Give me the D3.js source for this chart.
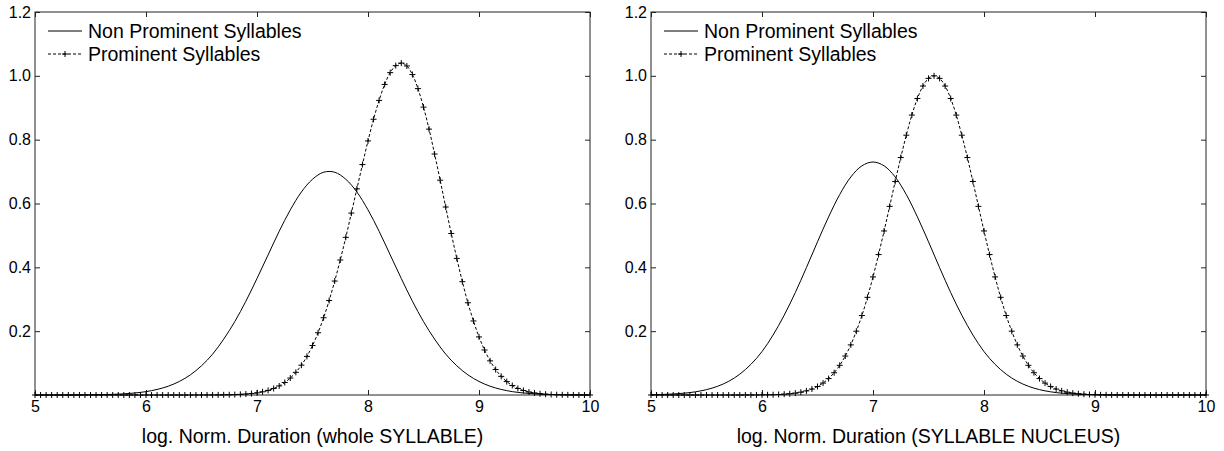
<!DOCTYPE html>
<html>
<head>
<meta charset="utf-8">
<script src="https://cdn.jsdelivr.net/npm/d3@7"></script>
<style>
	body { margin: 0; background: #fff; }
	svg { display: block; }
	text { font-family: "Liberation Sans", Arial, sans-serif; fill: #000; }
	.tick line { stroke: #222; }
	.tick text { font-size: 16px; }
	.domain { display: none; }
</style>
</head>
<body>
<svg id="chart" width="1224" height="451"></svg>
<script>
let xTicks = [5, 6, 7, 8, 9, 10];
let yTicks = [0.2, 0.4, 0.6, 0.8, 1.0, 1.2];
let seriesNames = ['Non Prominent Syllables', 'Prominent Syllables'];
let xTitles = ['log. Norm. Duration (whole SYLLABLE)', 'log. Norm. Duration (SYLLABLE NUCLEUS)'];

// solid curves: read every 0.1 from x = 5 to 10
let solidStep = 0.1;
// dashed curves with + markers: read every 0.05 from x = 5 to 10
let dashedStep = 0.05;

let nonProminentWhole = [
	0.0000, 0.0000, 0.0001, 0.0001, 0.0003, 0.0006, 0.0011, 0.0020, 0.0036, 0.0063,
	0.0106, 0.0174, 0.0275, 0.0424, 0.0632, 0.0915, 0.128, 0.175, 0.230, 0.294,
	0.365, 0.439, 0.513, 0.580, 0.636, 0.676, 0.698, 0.698, 0.676, 0.636,
	0.580, 0.513, 0.439, 0.365, 0.294, 0.230, 0.175, 0.128, 0.0915, 0.0632,
	0.0424, 0.0275, 0.0174, 0.0106, 0.0063, 0.0036, 0.0020, 0.0011, 0.0006, 0.0003,
	0.0001
];

let prominentWhole = [
	0, 0, 0, 0, 0, 0, 0, 0, 0, 0,
	0, 0, 0, 0, 0, 0, 0, 0, 0, 0,
	0, 0, 0, 0, 0, 0, 0, 0, 0, 0,
	0.0001, 0.0001, 0.0002, 0.0003, 0.0005, 0.0008, 0.0013, 0.0020, 0.0031, 0.0046,
	0.0068, 0.0100, 0.0143, 0.0204, 0.0284, 0.0392, 0.0531, 0.0710, 0.0935, 0.121,
	0.155, 0.195, 0.242, 0.296, 0.357, 0.423, 0.494, 0.570, 0.646, 0.722,
	0.796, 0.864, 0.923, 0.973, 1.010, 1.032, 1.040, 1.031, 1.004, 0.960,
	0.902, 0.833, 0.755, 0.673, 0.589, 0.506, 0.428, 0.355, 0.289, 0.232,
	0.182, 0.141, 0.107, 0.0797, 0.0584, 0.0420, 0.0297, 0.0206, 0.0141, 0.0094,
	0.0062, 0.0040, 0.0025, 0.0016, 0.0010, 0.0006, 0.0004, 0.0002, 0.0001, 0.0001,
	0
];

let nonProminentNucleus = [
	0.0009, 0.0017, 0.0032, 0.0057, 0.0100, 0.0168, 0.0273, 0.0429, 0.0653, 0.0960,
	0.136, 0.188, 0.250, 0.321, 0.399, 0.480, 0.558, 0.628, 0.683, 0.718,
	0.730, 0.718, 0.683, 0.628, 0.558, 0.480, 0.399, 0.321, 0.250, 0.188,
	0.136, 0.0960, 0.0653, 0.0429, 0.0273, 0.0168, 0.0100, 0.0057, 0.0032, 0.0017,
	0.0009, 0.0004, 0.0002, 0.0001, 0, 0, 0, 0, 0, 0,
	0
];

let prominentNucleus = [
	0, 0, 0, 0, 0, 0, 0, 0, 0, 0,
	0, 0, 0, 0, 0, 0, 0, 0.0001, 0.0001, 0.0002,
	0.0004, 0.0006, 0.0010, 0.0016, 0.0025, 0.0039, 0.0059, 0.0088, 0.0129, 0.0187,
	0.0267, 0.0374, 0.0515, 0.0698, 0.0930, 0.122, 0.157, 0.200, 0.249, 0.306,
	0.370, 0.440, 0.514, 0.591, 0.669, 0.744, 0.814, 0.877, 0.929, 0.968,
	0.992, 1.000, 0.992, 0.968, 0.929, 0.877, 0.814, 0.744, 0.669, 0.591,
	0.514, 0.440, 0.370, 0.306, 0.249, 0.200, 0.157, 0.122, 0.0930, 0.0698,
	0.0515, 0.0374, 0.0267, 0.0187, 0.0129, 0.0088, 0.0059, 0.0039, 0.0025, 0.0016,
	0.0010, 0.0006, 0.0004, 0.0002, 0.0001, 0.0001, 0, 0, 0, 0,
	0, 0, 0, 0, 0, 0, 0, 0, 0, 0,
	0
];

let plotTop = 12;
let plotBottom = 395;
let tickLen = 5;

let panels = [
	{ left: 35, right: 590, solid: nonProminentWhole, dashed: prominentWhole, title: xTitles[0] },
	{ left: 651, right: 1206, solid: nonProminentNucleus, dashed: prominentNucleus, title: xTitles[1] }
];

// turn a list of read values into {x, y} points on the sampling grid
function toPoints(values, step) {
	return values.map((v, i) => ({ x: 5 + i * step, y: v }));
}

function plusPath(size) {
	return `M${-size},0H${size}M0,${-size}V${size}`;
}

function drawPanel(chart, p) {
	let xScale = d3.scaleLinear().domain([5, 10]).range([p.left, p.right]);
	let yScale = d3.scaleLinear().domain([0, 1.2]).range([plotBottom, plotTop]);

	let g = chart.append('g');

	// box
	g.append('rect')
		.attr('x', p.left)
		.attr('y', plotTop)
		.attr('width', p.right - p.left)
		.attr('height', plotBottom - plotTop)
		.attr('fill', 'none')
		.attr('stroke', '#222')
		.attr('stroke-width', 1);

	// AXES, ticks point inward on all four sides
	g.append('g')
		.attr('transform', `translate(0,${plotBottom})`)
		.call(d3.axisBottom(xScale).tickValues(xTicks).tickFormat(d3.format('d'))
			.tickSizeInner(-tickLen).tickSizeOuter(0).tickPadding(6));

	g.append('g')
		.attr('transform', `translate(0,${plotTop})`)
		.call(d3.axisTop(xScale).tickValues(xTicks).tickFormat('')
			.tickSizeInner(-tickLen).tickSizeOuter(0));

	g.append('g')
		.attr('transform', `translate(${p.left},0)`)
		.call(d3.axisLeft(yScale).tickValues(yTicks).tickFormat(d3.format('.1f'))
			.tickSizeInner(-tickLen).tickSizeOuter(0).tickPadding(4));

	g.append('g')
		.attr('transform', `translate(${p.right},0)`)
		.call(d3.axisRight(yScale).tickValues(yTicks).tickFormat('')
			.tickSizeInner(-tickLen).tickSizeOuter(0));

	// x label
	g.append('text')
		.attr('x', (p.left + p.right) / 2)
		.attr('y', 443)
		.attr('text-anchor', 'middle')
		.style('font-size', '19.5px')
		.text(p.title);

	let line = d3.line()
		.x((d) => xScale(d.x))
		.y((d) => yScale(d.y))
		.curve(d3.curveCatmullRom);

	// non prominent: solid
	g.append('path')
		.datum(toPoints(p.solid, solidStep))
		.attr('d', line)
		.attr('fill', 'none')
		.attr('stroke', '#000')
		.attr('stroke-width', 1);

	// prominent: dashed with + markers
	let pts = toPoints(p.dashed, dashedStep);
	g.append('path')
		.datum(pts)
		.attr('d', line)
		.attr('fill', 'none')
		.attr('stroke', '#000')
		.attr('stroke-width', 1)
		.attr('stroke-dasharray', '3,2');

	g.selectAll('.mark')
		.data(pts)
		.enter()
		.append('path')
		.attr('class', 'mark')
		.attr('transform', (d) => `translate(${xScale(d.x)},${yScale(d.y)})`)
		.attr('d', plusPath(3))
		.attr('stroke', '#000')
		.attr('stroke-width', 1);

	// LEGEND
	let lx0 = p.left + 13;
	let lx1 = p.left + 47;
	let legendY = [31, 54];

	g.append('line')
		.attr('x1', lx0).attr('x2', lx1)
		.attr('y1', legendY[0]).attr('y2', legendY[0])
		.attr('stroke', '#000');

	g.append('line')
		.attr('x1', lx0).attr('x2', lx1)
		.attr('y1', legendY[1]).attr('y2', legendY[1])
		.attr('stroke', '#000')
		.attr('stroke-dasharray', '3,2');

	g.append('path')
		.attr('transform', `translate(${(lx0 + lx1) / 2},${legendY[1]})`)
		.attr('d', plusPath(3))
		.attr('stroke', '#000');

	seriesNames.forEach((name, i) => {
		g.append('text')
			.attr('x', lx1 + 6)
			.attr('y', legendY[i] + 7)
			.style('font-size', '19.5px')
			.text(name);
	});
}

let chart = d3.select('#chart');
panels.forEach((p) => drawPanel(chart, p));
</script>
</body>
</html>
